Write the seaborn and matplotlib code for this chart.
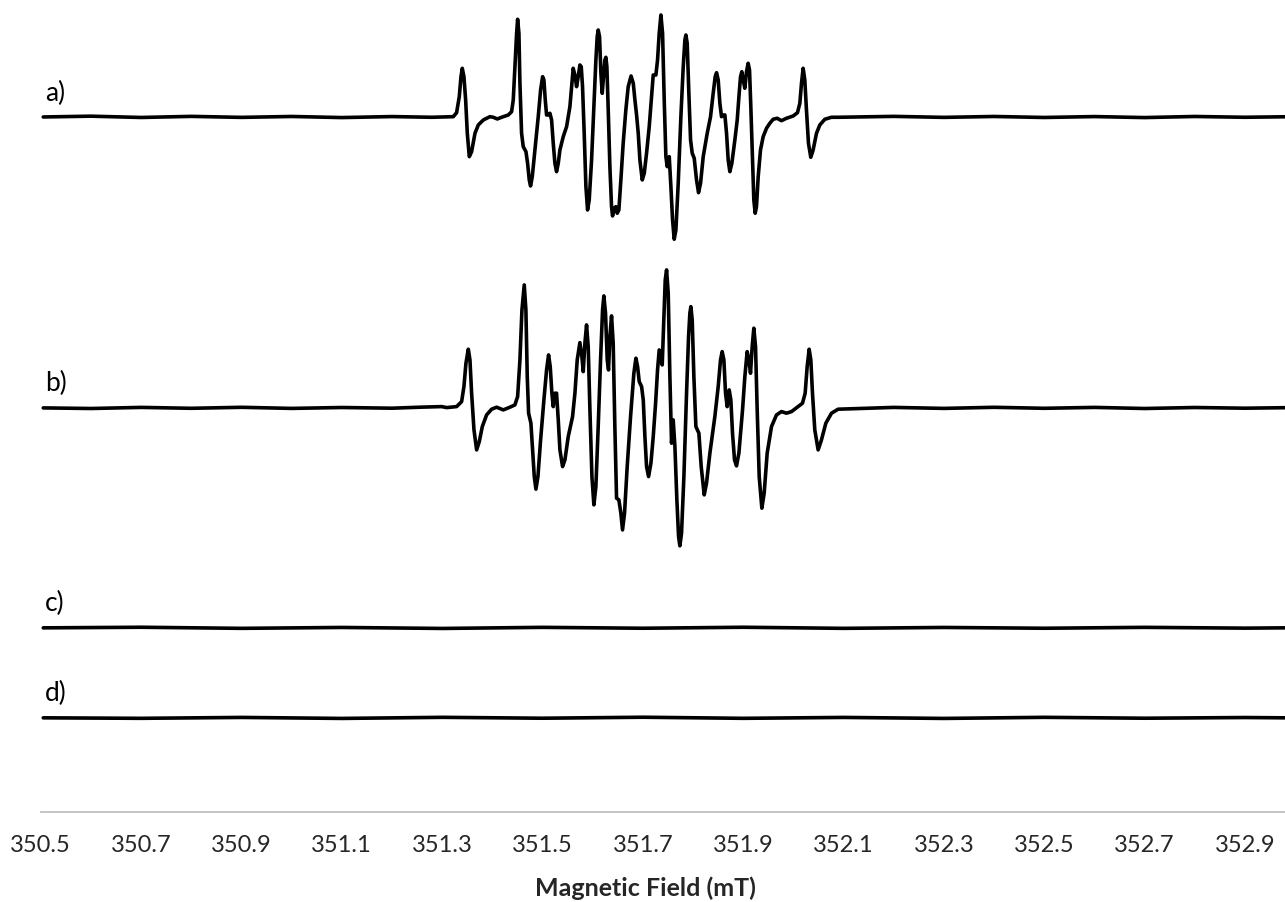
import matplotlib
matplotlib.use("Agg")
import matplotlib.pyplot as plt
import seaborn as sns

# EPR spectra (field in mT, intensity in arbitrary units)
field_a = [350.505, 350.60, 350.70, 350.80, 350.90, 351.00, 351.10, 351.20, 351.28, 351.3223,
           351.3289, 351.3342, 351.3376, 351.3402, 351.3435, 351.3469, 351.3502, 351.3542,
           351.3588, 351.3655, 351.3721, 351.3821, 351.3953, 351.4020, 351.4100, 351.4186,
           351.4319, 351.4385, 351.4418, 351.4451, 351.4485, 351.4505, 351.4531, 351.4551,
           351.4584, 351.4617, 351.4671, 351.4704, 351.4737, 351.4763, 351.4797, 351.4850,
           351.4916, 351.4963, 351.5003, 351.5029, 351.5056, 351.5082, 351.5115, 351.5149,
           351.5182, 351.5215, 351.5248, 351.5281, 351.5315, 351.5348, 351.5414, 351.5481,
           351.5547, 351.5587, 351.5613, 351.5646, 351.5680, 351.5713, 351.5746, 351.5773,
           351.5799, 351.5832, 351.5866, 351.5899, 351.5932, 351.5979, 351.6025, 351.6065,
           351.6091, 351.6111, 351.6138, 351.6165, 351.6191, 351.6218, 351.6244, 351.6264,
           351.6284, 351.6311, 351.6344, 351.6377, 351.6397, 351.6430, 351.6463, 351.6490,
           351.6523, 351.6563, 351.6609, 351.6662, 351.6709, 351.6766, 351.6810, 351.6843,
           351.6876, 351.6909, 351.6942, 351.6989, 351.7029, 351.7075, 351.7128, 351.7175,
           351.7208, 351.7261, 351.7294, 351.7327, 351.7361, 351.7394, 351.7427, 351.7460,
           351.7487, 351.7527, 351.7560, 351.7593, 351.7626, 351.7660, 351.7706, 351.7759,
           351.7806, 351.7839, 351.7859, 351.7885, 351.7918, 351.7952, 351.7985, 351.8025,
           351.8071, 351.8111, 351.8151, 351.8204, 351.8284, 351.8350, 351.8403, 351.8443,
           351.8470, 351.8503, 351.8536, 351.8569, 351.8602, 351.8636, 351.8669, 351.8702,
           351.8735, 351.8775, 351.8835, 351.8882, 351.8921, 351.8948, 351.8974, 351.9001,
           351.9034, 351.9067, 351.9100, 351.9127, 351.9153, 351.9187, 351.9213, 351.9240,
           351.9266, 351.9300, 351.9346, 351.9399, 351.9466, 351.9532, 351.9598, 351.9678,
           351.9764, 351.9864, 351.9997, 352.0083, 352.0130, 352.0163, 352.0196, 352.0229,
           352.0262, 352.0302, 352.0348, 352.0395, 352.0462, 352.0528, 352.0628, 352.0760,
           352.0893, 352.20, 352.30, 352.40, 352.50, 352.60, 352.70, 352.80, 352.90, 352.98]
signal_a = [0.0, 0.8, -0.5, 0.6, -0.4, 0.5, -0.6, 0.4, -0.3, 0.3,
            4.3, 20.3, 40.3, 48.7, 40.3, 17.0, -16.3, -39.7,
            -34.7, -16.3, -8.0, -3.0, 0.3, -0.3, -2.0, -0.3,
            2.0, 5.3, 17.0, 50.3, 83.7, 97.7, 83.7, 33.7,
            -16.3, -29.7, -34.7, -46.3, -63.0, -69.0, -59.7, -33.0,
            0.3, 27.0, 40.3, 37.0, 17.0, 2.0, 2.0, 3.7,
            -3.0, -26.3, -46.3, -54.7, -46.3, -33.0, -19.7, -9.7,
            10.3, 33.7, 48.7, 42.0, 30.3, 40.3, 52.0, 50.3,
            30.3, -16.3, -69.7, -93.0, -83.0, -43.0, 10.3, 57.0,
            80.3, 87.0, 80.3, 43.7, 23.7, 40.3, 57.0, 59.7,
            50.3, 7.0, -49.7, -89.7, -99.0, -91.3, -89.7, -96.3,
            -93.0, -63.0, -26.3, 7.0, 30.3, 41.0, 33.7, 17.0,
            2.0, -16.3, -43.0, -63.0, -56.3, -36.3, -9.7, 20.3,
            42.0, 42.0, 57.0, 83.7, 102.0, 83.7, 17.0, -39.7,
            -49.7, -39.7, -69.7, -103.0, -122.3, -113.0, -66.3, 0.3,
            50.3, 77.0, 82.0, 73.7, 23.7, -23.0, -36.3, -41.3,
            -63.0, -75.7, -66.3, -39.7, -16.3, 0.3, 23.7, 40.3,
            44.3, 37.0, 13.7, 0.3, 2.0, 2.0, -16.3, -43.0,
            -54.7, -46.3, -23.0, -3.0, 23.7, 40.3, 45.3, 37.0,
            28.7, 45.3, 53.7, 47.0, 10.3, -43.0, -83.0, -96.3,
            -89.7, -59.7, -33.0, -19.7, -11.3, -6.3, -2.3, -1.3,
            -3.7, -1.3, 1.0, 4.3, 13.7, 33.7, 48.7, 37.0,
            7.0, -26.3, -40.3, -33.0, -16.3, -8.0, -2.3, -0.3,
            -0.3, 0.6, -0.4, 0.5, -0.5, 0.4, -0.6, 0.5, -0.3, 0.2]

field_b = [350.505, 350.60, 350.70, 350.80, 350.90, 351.00, 351.10, 351.20, 351.2559, 351.2991,
           351.3090, 351.3289, 351.3389, 351.3435, 351.3475, 351.3522, 351.3555, 351.3588,
           351.3635, 351.3688, 351.3741, 351.3801, 351.3887, 351.3987, 351.4086, 351.4219,
           351.4352, 351.4451, 351.4505, 351.4551, 351.4591, 351.4637, 351.4670, 351.4697,
           351.4724, 351.4770, 351.4803, 351.4837, 351.4870, 351.4910, 351.4963, 351.5029,
           351.5082, 351.5122, 351.5155, 351.5188, 351.5215, 351.5248, 351.5281, 351.5315,
           351.5348, 351.5401, 351.5448, 351.5514, 351.5600, 351.5647, 351.5693, 351.5746,
           351.5786, 351.5813, 351.5846, 351.5879, 351.5912, 351.5946, 351.5986, 351.6025,
           351.6065, 351.6111, 351.6158, 351.6198, 351.6224, 351.6257, 351.6291, 351.6317,
           351.6344, 351.6377, 351.6410, 351.6443, 351.6477, 351.6523, 351.6563, 351.6596,
           351.6636, 351.6689, 351.6756, 351.6822, 351.6863, 351.6896, 351.6929, 351.6976,
           351.7009, 351.7042, 351.7075, 351.7115, 351.7162, 351.7208, 351.7255, 351.7294,
           351.7327, 351.7354, 351.7387, 351.7414, 351.7447, 351.7474, 351.7507, 351.7540,
           351.7573, 351.7606, 351.7640, 351.7679, 351.7713, 351.7739, 351.7772, 351.7819,
           351.7872, 351.7912, 351.7938, 351.7958, 351.7985, 351.8018, 351.8058, 351.8118,
           351.8164, 351.8224, 351.8270, 351.8337, 351.8436, 351.8503, 351.8549, 351.8582,
           351.8616, 351.8649, 351.8682, 351.8722, 351.8755, 351.8788, 351.8828, 351.8868,
           351.8915, 351.8988, 351.9034, 351.9080, 351.9114, 351.9147, 351.9180, 351.9213,
           351.9247, 351.9280, 351.9320, 351.9373, 351.9419, 351.9479, 351.9565, 351.9665,
           351.9764, 351.9864, 351.9964, 352.0096, 352.0183, 352.0236, 352.0276, 352.0316,
           352.0349, 352.0382, 352.0428, 352.0495, 352.0561, 352.0648, 352.0761, 352.0893,
           352.20, 352.30, 352.40, 352.50, 352.60, 352.70, 352.80, 352.90, 352.98]
signal_b = [0.0, -0.6, 0.5, -0.4, 0.6, -0.5, 0.4, -0.3, 0.7, 1.3,
            0.3, 1.3, 6.3, 21.3, 44.7, 58.7, 48.0, 14.7,
            -22.0, -42.0, -33.7, -18.7, -7.0, -1.3, 0.7, -2.0,
            0.7, 3.0, 11.3, 48.0, 98.0, 123.0, 98.0, 31.3,
            -5.3, -15.3, -42.0, -68.7, -81.3, -68.7, -32.0, 8.0,
            38.0, 53.0, 41.3, 14.7, 1.3, 14.7, 14.7, -12.0,
            -42.0, -58.7, -52.0, -28.7, -8.7, 14.7, 48.0, 65.3,
            51.3, 36.3, 64.7, 83.0, 61.3, -2.0, -68.7, -97.0,
            -78.7, -18.7, 48.0, 98.0, 112.0, 94.7, 48.0, 38.0,
            71.3, 92.0, 64.7, -18.7, -90.3, -92.0, -105.3, -122.0,
            -105.3, -58.7, -8.7, 34.7, 49.7, 41.3, 26.3, 21.3,
            8.0, -28.7, -58.7, -68.7, -55.3, -28.7, 4.7, 38.0,
            58.0, 51.3, 43.0, 81.3, 128.0, 138.0, 114.7, 31.3,
            -35.3, -12.0, -38.7, -92.0, -128.7, -138.0, -125.3, -68.7,
            14.7, 71.3, 94.7, 101.3, 88.0, 31.3, -18.7, -25.3,
            -58.7, -87.0, -75.3, -45.3, -8.7, 21.3, 48.0, 56.3,
            48.0, 14.7, 1.3, 18.0, 8.0, -25.3, -52.0, -58.0,
            -45.3, -2.0, 31.3, 56.3, 48.0, 34.7, 61.3, 79.7,
            61.3, -2.0, -68.7, -100.3, -85.3, -45.3, -18.7, -7.0,
            -3.7, -5.3, -3.7, 1.3, 4.7, 14.7, 41.3, 58.7,
            48.0, 14.7, -22.0, -42.0, -32.0, -15.3, -5.3, -1.3,
            0.5, -0.5, 0.6, -0.4, 0.5, -0.6, 0.4, -0.3, 0.2]

field_flat = [350.505, 350.70, 350.90, 351.10, 351.30, 351.50, 351.70, 351.90, 352.10,
              352.30, 352.50, 352.70, 352.90, 352.98]
signal_c = [0.0, 0.6, -0.5, 0.4, -0.6, 0.5, -0.4, 0.6, -0.5, 0.4, -0.4, 0.5, -0.3, 0.0]
signal_d = [0.0, -0.5, 0.4, -0.6, 0.5, -0.4, 0.6, -0.5, 0.4, -0.6, 0.5, -0.4, 0.3, 0.0]

labels = ["a)", "b)", "c)", "d)"]
offsets = [695, 404, 184, 94]
tick_values = [350.5, 350.7, 350.9, 351.1, 351.3, 351.5, 351.7, 351.9,
               352.1, 352.3, 352.5, 352.7, 352.9]

sns.set_style("white")
plt.rcParams['font.family'] = ['Lato', 'DejaVu Sans']

fig = plt.figure(figsize=(12.85, 9.02), dpi=100)
ax = fig.add_axes([0.0317, 0.1, 0.9683, 0.9])

traces = [(field_a, signal_a), (field_b, signal_b), (field_flat, signal_c), (field_flat, signal_d)]
for (fx, sy), off, lab in zip(traces, offsets, labels):
    sns.lineplot(x=fx, y=[v + off for v in sy], sort=False, estimator=None,
                 color='black', linewidth=2.6, solid_joinstyle='round',
                 solid_capstyle='round', ax=ax)
    ax.text(350.509, off + 24, lab, fontsize=19, ha='left', va='center', color='black')

ax.set_xlim(350.5, 352.98)
ax.set_ylim(0, 812)
ax.set_xticks(tick_values)
ax.set_xticklabels([f"{t:.1f}" for t in tick_values], fontsize=17)
ax.set_yticks([])
ax.set_xlabel('Magnetic Field (mT)', fontsize=18, fontweight='bold')
ax.xaxis.set_label_coords(0.486, -0.079)

for side in ['top', 'right', 'left']:
    ax.spines[side].set_visible(False)
ax.spines['bottom'].set_color('#bfbfbf')
ax.spines['bottom'].set_linewidth(1.3)
ax.tick_params(axis='x', direction='out', length=7, width=1.2, color='#bfbfbf', pad=9.5)
ax.grid(False)

fig.savefig('out.png', dpi=100, facecolor='white')
plt.close(fig)
